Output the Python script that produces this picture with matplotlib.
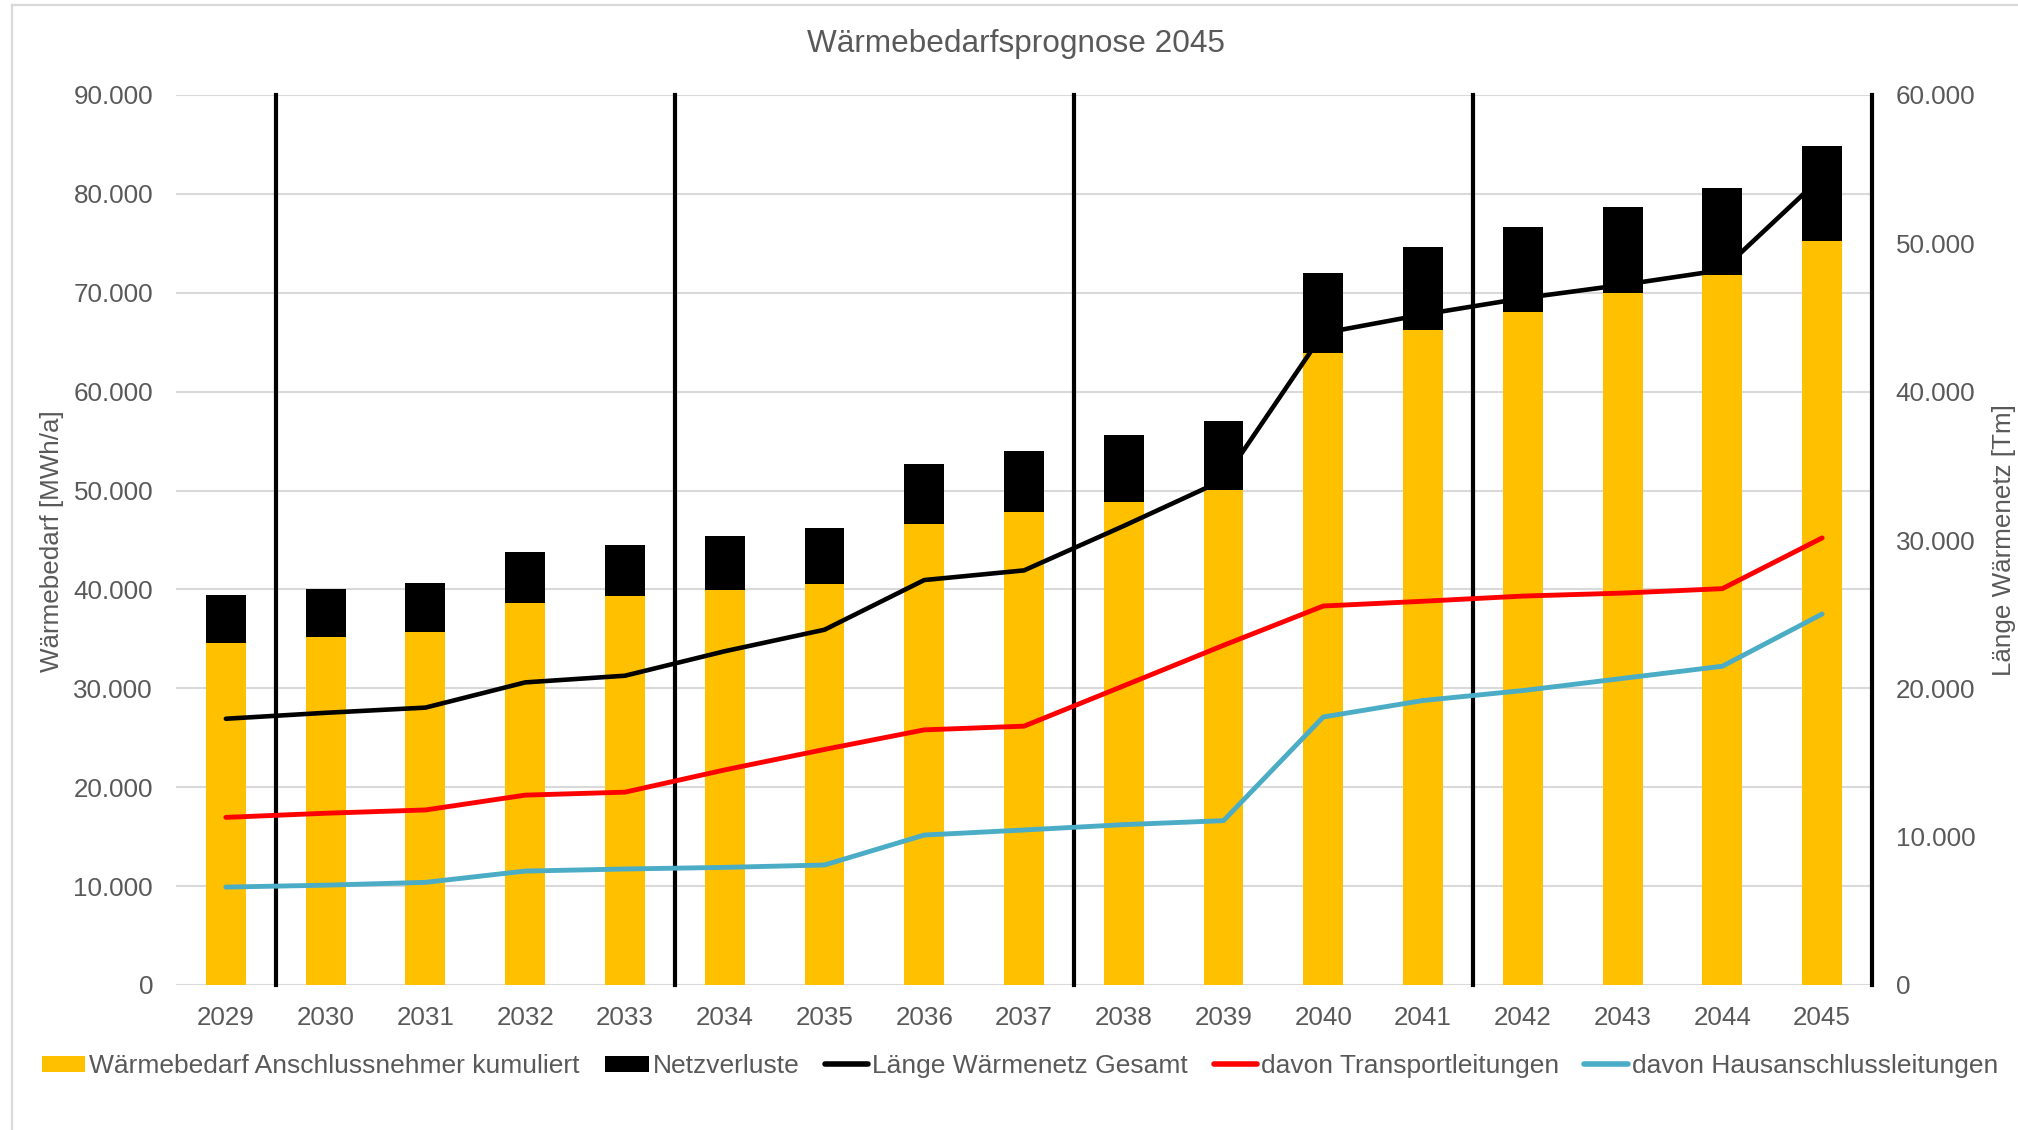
import numpy as np
import matplotlib
matplotlib.use("Agg")
import matplotlib.pyplot as plt
from matplotlib.ticker import FuncFormatter, MultipleLocator
from matplotlib.lines import Line2D

# ---------------- data ----------------
years = [str(y) for y in range(2029, 2046)]
waermebedarf = [34610, 35170, 35690, 38660, 39290, 39960, 40600, 46650, 47840,
                48890, 50070, 63900, 66250, 68030, 69960, 71750, 75210]
netzverluste = [4790, 4870, 4980, 5100, 5210, 5430, 5610, 6060, 6140,
                6690, 6990, 8150, 8400, 8660, 8670, 8880, 9640]
laenge_gesamt = [17950, 18350, 18700, 20400, 20850, 22500, 23950, 27300, 27950,
                 30950, 34050, 43950, 45200, 46300, 47200, 48200, 54500]
transport = [11300, 11580, 11800, 12800, 13000, 14500, 15880, 17200, 17450,
             20170, 22900, 25550, 25870, 26220, 26420, 26720, 30140]
hausanschluss = [6600, 6730, 6920, 7680, 7820, 7930, 8090, 10110, 10450,
                 10810, 11080, 18070, 19180, 19850, 20670, 21490, 25010]
period_years = 4

labels = {
    "bar1": "Wärmebedarf Anschlussnehmer kumuliert",
    "bar2": "Netzverluste",
    "l1": "Länge Wärmenetz Gesamt",
    "l2": "davon Transportleitungen",
    "l3": "davon Hausanschlussleitungen",
}
title = "Wärmebedarfsprognose 2045"
ylabel_left = "Wärmebedarf [MWh/a]"
ylabel_right = "Länge Wärmenetz [Tm]"

# ---------------- style ----------------
plt.rcParams["font.family"] = ["Liberation Sans", "DejaVu Sans"]
TXT = "#595959"
GRID = "#D9D9D9"
YELLOW = "#FFC000"
RED = "#FF0000"
BLUE = "#4BACC6"
FS = 18.7
FS_LEG = 19.0

W, H = 2018, 1130
fig = plt.figure(figsize=(W / 100, H / 100), dpi=100)
left, right, bottom, top = 176 / W, 1872 / W, 1 - 985 / H, 1 - 95 / H
ax = fig.add_axes([left, bottom, right - left, top - bottom])
ax2 = ax.twinx()

x = np.arange(len(years))
fmt = FuncFormatter(lambda v, _: f"{v:,.0f}".replace(",", "."))

# bars
b1 = ax.bar(x, waermebedarf, width=0.4, color=YELLOW, zorder=2, label=labels["bar1"])
b2 = ax.bar(x, netzverluste, width=0.4, bottom=waermebedarf, color="black", zorder=2,
            label=labels["bar2"])

# period separators
seps = np.arange(0.5, len(years), period_years)
ax.vlines(seps, 0, 90000, colors="black", linewidth=3.0, zorder=3, clip_on=False,
          capstyle="projecting")

ax.set_xlim(-0.5, len(years) - 0.5)
ax.set_ylim(0, 90000)
ax.yaxis.set_major_locator(MultipleLocator(10000))
ax.yaxis.set_major_formatter(fmt)
ax.set_axisbelow(True)
ax.grid(axis="y", color=GRID, linewidth=1.5, zorder=0)
ax.set_xticks(x)
ax.set_xticklabels(years)

# lines (secondary axis)
lw = 3.5
l1, = ax2.plot(x, laenge_gesamt, color="black", linewidth=3.3, label=labels["l1"],
               solid_joinstyle="round", solid_capstyle="round")
l2, = ax2.plot(x, transport, color=RED, linewidth=lw, label=labels["l2"],
               solid_joinstyle="round", solid_capstyle="round")
l3, = ax2.plot(x, hausanschluss, color=BLUE, linewidth=lw, label=labels["l3"],
               solid_joinstyle="round", solid_capstyle="round")
ax2.set_ylim(0, 60000)
ax2.yaxis.set_major_locator(MultipleLocator(10000))
ax2.yaxis.set_major_formatter(fmt)

for a in (ax, ax2):
    for s in a.spines.values():
        s.set_visible(False)
ax.tick_params(axis="both", length=0, labelsize=FS, labelcolor=TXT)
ax.tick_params(axis="y", pad=16.5)
ax.tick_params(axis="x", pad=15.0)
ax2.tick_params(axis="y", length=0, labelsize=FS, labelcolor=TXT, pad=17)

# titles / labels
fig.text(1015.5 / W, 1 - 44 / H, title, ha="center", va="center", fontsize=22.7, color=TXT)
fig.text(52 / W, 1 - 541 / H, ylabel_left, rotation=90, ha="center", va="center",
         fontsize=FS, color=TXT)
fig.text(2004 / W, 1 - 540 / H, ylabel_right, rotation=90, ha="center", va="center",
         fontsize=FS, color=TXT)

# legend
handles = [b1, b2, l1, l2, l3]
leg = fig.legend(handles, [h.get_label() for h in handles], loc="center",
                 bbox_to_anchor=(1020 / W, 1 - 1066 / H), ncol=5, frameon=False,
                 fontsize=FS_LEG, handlelength=1.64, handleheight=0.55, handletextpad=0.15,
                 columnspacing=0.97, borderpad=0, borderaxespad=0)
for t in leg.get_texts():
    t.set_color(TXT)
for h in leg.legend_handles[2:]:
    h.set_linewidth(4.0)

# chart border (light gray)
fig.add_artist(Line2D([12 / W, 1], [1 - 5 / H, 1 - 5 / H], transform=fig.transFigure,
                      color=GRID, linewidth=1.6))
fig.add_artist(Line2D([12 / W, 12 / W], [0, 1 - 5 / H], transform=fig.transFigure,
                      color=GRID, linewidth=1.6))

fig.savefig("out.png", dpi=100, facecolor="white")
